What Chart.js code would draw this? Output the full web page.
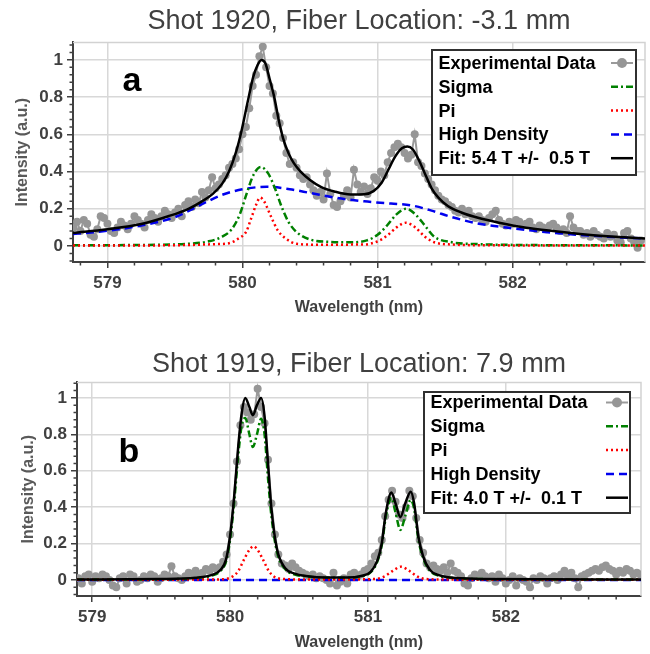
<!DOCTYPE html>
<html>
<head>
<meta charset="utf-8">
<script src="https://cdn.jsdelivr.net/npm/chart.js@4.4.1/dist/chart.umd.min.js"></script>
<style>
  body { margin: 0; background: #fff; width: 650px; height: 654px; overflow: hidden; position: relative; }
  canvas { position: absolute; left: 0; }
  #chartA { top: 0; }
  #chartB { top: 330px; }
</style>
</head>
<body>
<canvas id="chartA" width="650" height="320"></canvas>
<canvas id="chartB" width="650" height="324"></canvas>
<script>
// axis ticks shared by both panels
const wavelengthTicks = [579, 580, 581, 582];
const intensityTicks = [0, 0.2, 0.4, 0.6, 0.8, 1];
const seriesLabels = ['Experimental Data', 'Sigma', 'Pi', 'High Density'];

// ---- panel a : shot 1920 ----
const expAStart = 578.75, expAStep = 0.025;
const expAIntensity = [
  0.10, 0.13, 0.08, 0.14, 0.12, 0.06, 0.05, 0.09, 0.16, 0.15,
  0.12, 0.08, 0.07, 0.10, 0.13, 0.11, 0.09, 0.12, 0.16, 0.14,
  0.12, 0.10, 0.14, 0.17, 0.15, 0.13, 0.16, 0.19, 0.17, 0.15,
  0.18, 0.20, 0.16, 0.22, 0.24, 0.21, 0.25, 0.23, 0.29, 0.26,
  0.30, 0.37, 0.31, 0.33, 0.36, 0.38, 0.42, 0.44, 0.47, 0.52,
  0.60, 0.64, 0.74, 0.86, 0.92, 1.02, 1.07, 0.96, 0.86, 0.82,
  0.70, 0.66, 0.58, 0.50, 0.44, 0.45, 0.42, 0.38, 0.36, 0.37,
  0.33, 0.30, 0.27, 0.29, 0.25, 0.39, 0.28, 0.22, 0.21, 0.24,
  0.27, 0.30, 0.26, 0.41, 0.33, 0.29, 0.32, 0.28, 0.31, 0.37,
  0.35, 0.40, 0.38, 0.45, 0.50, 0.53, 0.55, 0.53, 0.50, 0.47,
  0.49, 0.60, 0.45, 0.43, 0.39, 0.36, 0.33, 0.30, 0.27, 0.25,
  0.24, 0.22, 0.21, 0.19, 0.18, 0.20, 0.17, 0.19, 0.16, 0.15,
  0.16, 0.14, 0.13, 0.15, 0.17, 0.19, 0.14, 0.12, 0.11, 0.13,
  0.12, 0.14, 0.13, 0.11, 0.12, 0.13, 0.10, 0.09, 0.11, 0.10,
  0.09, 0.11, 0.12, 0.10, 0.08, 0.09, 0.07, 0.16, 0.10, 0.08,
  0.08, 0.06, 0.07, 0.05, 0.08, 0.06, 0.05, 0.04, 0.07, 0.05,
  0.06, 0.03, 0.02, 0.07, 0.08, 0.04, 0.02, -0.01, 0.03
];
const sigmaAWl = [578.745, 579.3, 579.6, 579.75, 579.85, 579.92, 579.98, 580.03, 580.08, 580.135, 580.19, 580.24, 580.29, 580.34, 580.4, 580.5, 580.65, 580.8, 580.92, 581.0, 581.07, 581.14, 581.21, 581.28, 581.35, 581.42, 581.55, 581.75, 582.0, 582.98];
const sigmaAInt = [0.004, 0.006, 0.012, 0.025, 0.05, 0.09, 0.17, 0.28, 0.38, 0.425, 0.39, 0.31, 0.21, 0.13, 0.075, 0.035, 0.022, 0.02, 0.03, 0.06, 0.11, 0.17, 0.2, 0.17, 0.11, 0.05, 0.02, 0.01, 0.006, 0.003];
const piAWl = [578.745, 579.5, 579.8, 579.9, 579.97, 580.03, 580.06, 580.1, 580.13, 580.16, 580.21, 580.26, 580.32, 580.4, 580.55, 580.9, 581.0, 581.07, 581.14, 581.21, 581.28, 581.35, 581.42, 581.55, 581.8, 582.98];
const piAInt = [0.002, 0.004, 0.01, 0.015, 0.04, 0.08, 0.14, 0.22, 0.26, 0.24, 0.16, 0.085, 0.04, 0.012, 0.007, 0.008, 0.025, 0.055, 0.1, 0.125, 0.1, 0.05, 0.02, 0.008, 0.004, 0.002];
const hdAWl = [578.745, 579.0, 579.25, 579.5, 579.7, 579.85, 580.0, 580.18, 580.35, 580.5, 580.7, 580.9, 581.1, 581.25, 581.4, 581.55, 581.75, 582.0, 582.35, 582.7, 582.98];
const hdAInt = [0.064, 0.082, 0.11, 0.155, 0.225, 0.275, 0.305, 0.318, 0.305, 0.285, 0.258, 0.24, 0.228, 0.218, 0.19, 0.155, 0.12, 0.095, 0.068, 0.05, 0.04];
const fitAWl = [578.745, 579.0, 579.25, 579.45, 579.6, 579.7, 579.78, 579.85, 579.9, 579.95, 579.99, 580.04, 580.08, 580.11, 580.14, 580.17, 580.2, 580.235, 580.27, 580.3, 580.34, 580.38, 580.43, 580.5, 580.58, 580.68, 580.8, 580.9, 580.97, 581.03, 581.08, 581.13, 581.18, 581.22, 581.26, 581.3, 581.35, 581.4, 581.45, 581.52, 581.62, 581.75, 581.9, 582.1, 582.3, 582.5, 582.7, 582.98];
const fitAInt = [0.07, 0.09, 0.118, 0.16, 0.2, 0.24, 0.28, 0.335, 0.40, 0.50, 0.61, 0.78, 0.91, 0.97, 1.0, 0.98, 0.9, 0.8, 0.67, 0.58, 0.5, 0.445, 0.4, 0.355, 0.318, 0.293, 0.277, 0.278, 0.295, 0.34, 0.41, 0.48, 0.525, 0.535, 0.52, 0.47, 0.39, 0.31, 0.26, 0.215, 0.18, 0.15, 0.125, 0.098, 0.08, 0.065, 0.053, 0.04];

// ---- panel b : shot 1919 ----
const expBStart = 578.9, expBStep = 0.025;
const expBIntensity = [
  0.01, -0.02, 0.02, 0.03, -0.01, 0.02, 0.01, 0.03, 0.02, 0.00,
  -0.03, -0.04, 0.01, 0.02, -0.02, 0.03, 0.02, -0.01, 0.00, 0.02,
  0.01, 0.03, 0.02, -0.01, 0.01, 0.03, 0.02, 0.075, 0.02, 0.01,
  0.00, 0.02, 0.04, 0.03, 0.05, 0.03, 0.04, 0.06, 0.05, 0.07,
  0.06, 0.07, 0.10, 0.14, 0.25, 0.42, 0.65, 0.85, 0.95, 0.92,
  0.88, 0.91, 1.05, 0.95, 0.86, 0.66, 0.42, 0.25, 0.14, 0.09,
  0.08, 0.06, 0.09, 0.07, 0.05, 0.04, 0.03, 0.02, 0.03, 0.01,
  0.02, 0.01, 0.00, -0.02, 0.04, -0.03, -0.01, 0.01, -0.02, 0.03,
  0.04, 0.02, 0.03, 0.05, 0.06, 0.09, 0.13, 0.15, 0.22, 0.35,
  0.44, 0.49, 0.43, 0.36, 0.34, 0.40, 0.49, 0.46, 0.34, 0.22,
  0.15, 0.09, 0.07, 0.08, 0.06, 0.05, 0.07, 0.04, 0.09, 0.05,
  0.04, 0.02, -0.02, -0.03, 0.01, 0.03, 0.02, 0.04, 0.02, 0.01,
  0.02, -0.01, 0.03, 0.01, -0.02, 0.00, 0.02, -0.03, 0.01, 0.00,
  -0.01, -0.04, 0.01, 0.00, 0.02, 0.01, -0.02, 0.01, 0.02, 0.00,
  0.03, 0.05, 0.02, 0.04, 0.01, -0.04, 0.02, 0.03, 0.04, 0.05,
  0.06, 0.05, 0.07, 0.08, 0.06, 0.05, 0.03, 0.05, 0.04, 0.06,
  0.05, 0.03, 0.04, 0.03
];
const curveBWl = [578.89, 579.5, 579.75, 579.87, 579.93, 579.97, 580.0, 580.03, 580.06, 580.085, 580.11, 580.14, 580.165, 580.195, 580.225, 580.25, 580.275, 580.3, 580.34, 580.4, 580.47, 580.55, 580.7, 580.85, 580.95, 581.02, 581.07, 581.1, 581.13, 581.17, 581.2, 581.235, 581.27, 581.31, 581.335, 581.365, 581.4, 581.45, 581.52, 581.6, 581.8, 582.98];
const sigmaBInt = [0.002, 0.004, 0.01, 0.025, 0.05, 0.10, 0.22, 0.43, 0.69, 0.85, 0.89, 0.80, 0.73, 0.80, 0.885, 0.80, 0.56, 0.35, 0.155, 0.06, 0.03, 0.02, 0.012, 0.012, 0.02, 0.043, 0.105, 0.19, 0.35, 0.45, 0.37, 0.275, 0.35, 0.44, 0.39, 0.225, 0.12, 0.05, 0.022, 0.012, 0.005, 0.002];
const fitBInt = [0.003, 0.005, 0.012, 0.028, 0.055, 0.11, 0.24, 0.46, 0.74, 0.92, 1.0, 0.95, 0.905, 0.96, 1.0, 0.9, 0.64, 0.39, 0.17, 0.065, 0.035, 0.022, 0.013, 0.013, 0.022, 0.045, 0.11, 0.2, 0.37, 0.48, 0.42, 0.345, 0.42, 0.485, 0.42, 0.24, 0.13, 0.055, 0.025, 0.013, 0.006, 0.002];
const piBWl = [578.89, 579.9, 579.97, 580.02, 580.06, 580.1, 580.14, 580.17, 580.2, 580.24, 580.28, 580.32, 580.38, 580.6, 581.05, 581.12, 581.18, 581.24, 581.3, 581.36, 581.42, 581.6, 582.98];
const piBInt = [0.001, 0.003, 0.006, 0.02, 0.05, 0.11, 0.165, 0.185, 0.165, 0.11, 0.05, 0.018, 0.006, 0.002, 0.005, 0.02, 0.05, 0.073, 0.05, 0.018, 0.005, 0.002, 0.001];
const hdBWl = [578.89, 582.98];
const hdBInt = [0, 0];

const FONT = '"Liberation Sans", Arial, sans-serif';
Chart.defaults.font.family = FONT;

function pts(wl, val) { return wl.map((w, i) => ({ x: w, y: val[i] })); }
function grid(start, step, val) { return val.map((v, i) => ({ x: +(start + i * step).toFixed(4), y: v })); }

// frame, minor ticks, panel letter and the boxed legend
const decor = {
  id: 'decor',
  beforeDatasetsDraw(chart) {
    const a = chart.chartArea, ctx = chart.ctx;
    ctx.save();
    ctx.strokeStyle = '#d2d2d2';
    ctx.lineWidth = 1.5;
    ctx.beginPath();
    ctx.moveTo(a.left, a.top); ctx.lineTo(a.right, a.top); ctx.lineTo(a.right, a.bottom);
    ctx.stroke();
    ctx.restore();
  },
  afterDraw(chart, args, o) {
    const a = chart.chartArea, ctx = chart.ctx;
    const xs = chart.scales.x, ys = chart.scales.y;
    ctx.save();
    // minor ticks
    ctx.strokeStyle = '#404040';
    ctx.lineWidth = 1.5;
    ctx.beginPath();
    for (let k = -3; k <= 28; k++) {
      if (k % 5 === 0) continue;
      const py = ys.getPixelForValue(k * 0.04);
      if (py < a.top || py > a.bottom) continue;
      ctx.moveTo(a.left - 3.5, py); ctx.lineTo(a.left, py);
    }
    for (let k = 2893; k <= 2915; k++) {
      if (k % 5 === 0) continue;
      const px = xs.getPixelForValue(k * 0.2);
      if (px < a.left || px > a.right) continue;
      ctx.moveTo(px, a.bottom); ctx.lineTo(px, a.bottom + 3.5);
    }
    ctx.stroke();

    // panel letter
    ctx.fillStyle = '#000';
    ctx.font = 'bold 34px ' + FONT;
    ctx.textAlign = 'center';
    ctx.textBaseline = 'middle';
    ctx.fillText(o.letter, o.letterX, o.letterY);

    // legend
    const L = o.legend;
    ctx.fillStyle = '#fff';
    ctx.fillRect(L.x, L.y, L.w, L.h);
    ctx.strokeStyle = '#303030';
    ctx.lineWidth = 2;
    ctx.strokeRect(L.x, L.y, L.w, L.h);
    ctx.font = 'bold 18px ' + FONT;
    ctx.textAlign = 'left';
    chart.data.datasets.forEach((ds, i) => {
      const cy = L.y + L.row0 + i * L.gap;
      ctx.fillStyle = '#000';
      ctx.fillText(ds.label, L.x + 6.5, cy + 1);
      ctx.strokeStyle = ds.borderColor;
      ctx.lineWidth = ds.borderWidth;
      ctx.setLineDash(ds.borderDash || []);
      ctx.beginPath();
      ctx.moveTo(L.s0, cy); ctx.lineTo(L.s1, cy);
      ctx.stroke();
      ctx.setLineDash([]);
      if (ds.pointRadius) {
        ctx.fillStyle = ds.pointBackgroundColor;
        ctx.beginPath();
        ctx.arc((L.s0 + L.s1) / 2, cy, 5, 0, Math.PI * 2);
        ctx.fill();
      }
    });
    ctx.restore();
  }
};

function makeChart(id, p) {
  const datasets = [
    { label: seriesLabels[0], data: p.exp, borderColor: '#9a9a9a', borderWidth: 2,
      pointRadius: 4, pointBorderWidth: 0, pointBackgroundColor: '#969696', tension: 0, order: 5 },
    { label: seriesLabels[1], data: p.sigma, borderColor: '#008000', borderWidth: 2.5,
      borderDash: [7, 3, 2, 3], pointRadius: 0, cubicInterpolationMode: 'monotone', order: 3 },
    { label: seriesLabels[2], data: p.pi, borderColor: '#ff0000', borderWidth: 2.5,
      borderDash: [2, 3], pointRadius: 0, cubicInterpolationMode: 'monotone', order: 2 },
    { label: seriesLabels[3], data: p.hd, borderColor: '#0000ee', borderWidth: 2.5,
      borderDash: [8, 5], pointRadius: 0, cubicInterpolationMode: 'monotone', order: 4 },
    { label: p.fitLabel, data: p.fit, borderColor: '#000000', borderWidth: 2.5,
      pointRadius: 0, cubicInterpolationMode: 'monotone', order: 1 }
  ];
  return new Chart(document.getElementById(id), {
    type: 'line',
    data: { datasets },
    plugins: [decor],
    options: {
      responsive: false,
      animation: false,
      devicePixelRatio: 1,
      layout: { padding: { left: 0, right: p.padRight, top: 0, bottom: 0 } },
      plugins: {
        legend: { display: false },
        tooltip: { enabled: false },
        title: {
          display: true, text: p.title, fullSize: false, color: '#404040',
          font: { size: 27, weight: 'normal', lineHeight: 1.2 },
          padding: { top: p.titleTop, bottom: p.titleBottom }
        },
        decor: p.decor
      },
      scales: {
        x: {
          type: 'linear', min: p.xMin, max: p.xMax,
          afterFit: s => { s.height = 58; },
          afterBuildTicks: s => { s.ticks = wavelengthTicks.map(v => ({ value: v })); },
          ticks: { color: '#404040', font: { size: 17, weight: 'bold' }, padding: 5,
                   maxRotation: 0, autoSkip: false, callback: v => String(v) },
          grid: { color: '#d8d8d8', lineWidth: 1.5, tickColor: '#404040', tickLength: 6, tickWidth: 1.5 },
          border: { color: '#404040', width: 2 },
          title: { display: true, text: 'Wavelength (nm)', color: '#404040',
                   font: { size: 16, weight: 'bold' }, padding: { top: 0, bottom: p.xTitlePad } }
        },
        y: {
          min: p.yMin, max: p.yMax,
          afterFit: s => { s.width = p.yWidth; },
          afterBuildTicks: s => { s.ticks = intensityTicks.map(v => ({ value: v })); },
          ticks: { color: '#404040', font: { size: 17, weight: 'bold' }, padding: 4,
                   autoSkip: false, callback: v => String(v) },
          grid: { color: '#d8d8d8', lineWidth: 1.5, tickColor: '#404040', tickLength: 6, tickWidth: 1.5 },
          border: { color: '#404040', width: 2 },
          title: { display: true, text: 'Intensity (a.u.)', color: '#595959',
                   font: { size: 16, weight: 'bold' }, padding: { top: p.yTitlePad, bottom: 0 } }
        }
      }
    }
  });
}

makeChart('chartA', {
  title: 'Shot 1920, Fiber Location: -3.1 mm',
  fitLabel: 'Fit: 5.4 T +/-  0.5 T',
  exp: grid(expAStart, expAStep, expAIntensity),
  sigma: pts(sigmaAWl, sigmaAInt), pi: pts(piAWl, piAInt),
  hd: pts(hdAWl, hdAInt), fit: pts(fitAWl, fitAInt),
  xMin: 578.745, xMax: 582.98, yMin: -0.086, yMax: 1.094,
  yWidth: 73, padRight: 5, titleTop: 5, titleBottom: 5, xTitlePad: 3, yTitlePad: 13,
  decor: { letter: 'a', letterX: 132, letterY: 82,
           legend: { x: 432, y: 50, w: 204, h: 125, row0: 13, gap: 23.8, s0: 611, s1: 633 } }
});

makeChart('chartB', {
  title: 'Shot 1919, Fiber Location: 7.9 mm',
  fitLabel: 'Fit: 4.0 T +/-  0.1 T',
  exp: grid(expBStart, expBStep, expBIntensity),
  sigma: pts(curveBWl, sigmaBInt), pi: pts(piBWl, piBInt),
  hd: pts(hdBWl, hdBInt), fit: pts(curveBWl, fitBInt),
  xMin: 578.89, xMax: 582.98, yMin: -0.088, yMax: 1.085,
  yWidth: 77, padRight: 9, titleTop: 18, titleBottom: 2, xTitlePad: 2, yTitlePad: 19,
  decor: { letter: 'b', letterX: 129, letterY: 123,
           legend: { x: 424, y: 62, w: 206, h: 121, row0: 10.5, gap: 23.8, s0: 606, s1: 628 } }
});
</script>
</body>
</html>
